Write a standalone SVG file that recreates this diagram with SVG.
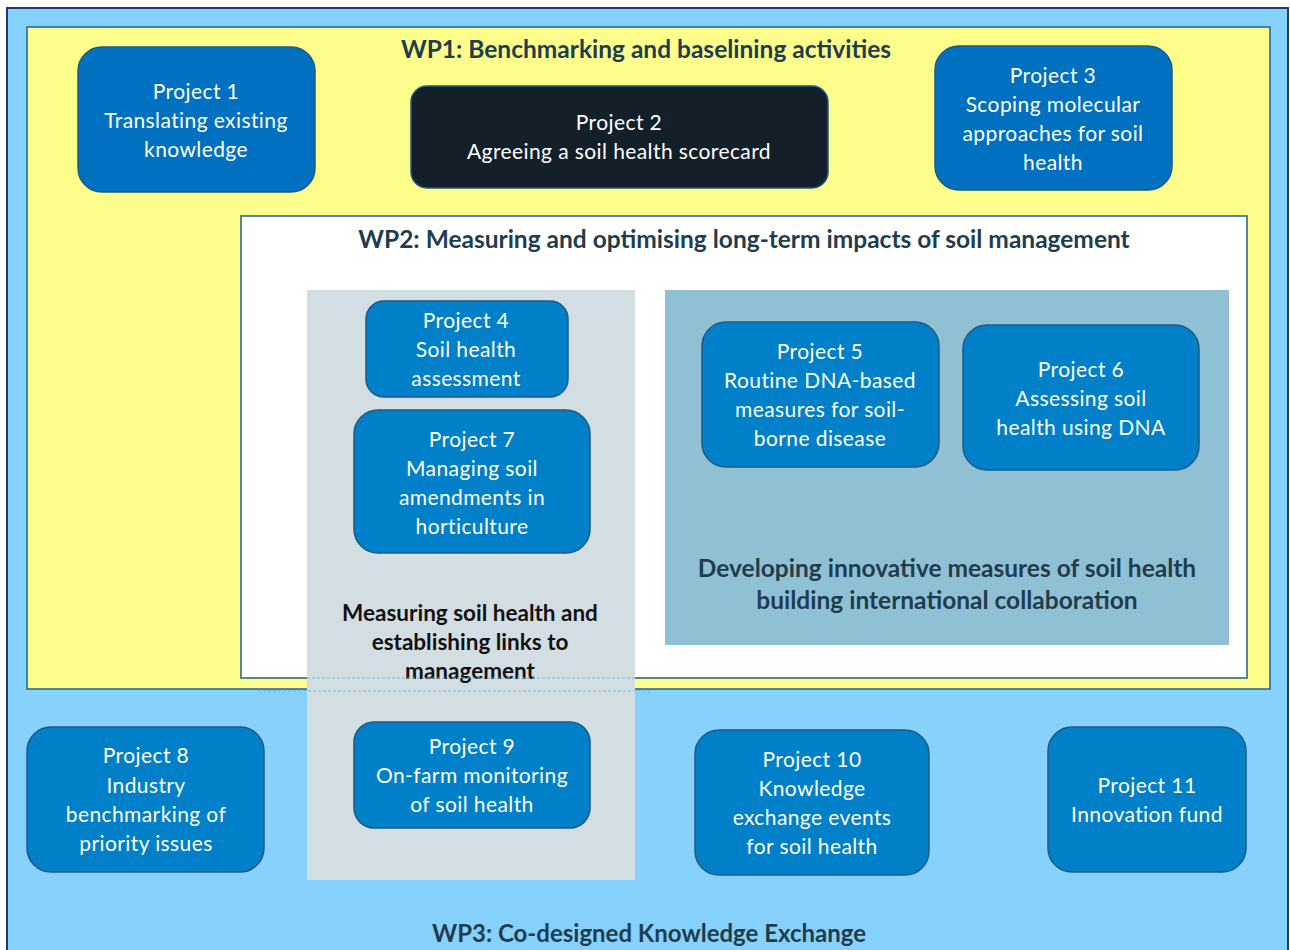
<svg xmlns="http://www.w3.org/2000/svg" width="1290" height="950" viewBox="0 0 1290 950">
<style>
.p{fill:#0080c8;stroke:#1f5a85;stroke-width:1.5}
.p1{fill:#0070c0;stroke:#1f5a85;stroke-width:1.5}
.t{font-family:Lato,"Open Sans",sans-serif;font-size:21px;letter-spacing:0.4px;fill:#ffffff;text-anchor:middle}
.h{font-family:Lato,"Open Sans",sans-serif;font-size:24.5px;font-weight:bold;fill:#1f3d4d;text-anchor:middle}
.g{font-family:Lato,"Open Sans",sans-serif;font-size:22.5px;font-weight:bold;fill:#111111;text-anchor:middle}
.d{stroke:#66bbee;stroke-width:1;stroke-dasharray:3 2;fill:none}
</style>
<rect x="0" y="0" width="1290" height="950" fill="#ffffff"/>
<g id="wp3">
<rect x="7" y="8" width="1281" height="950" fill="#87d2fd" stroke="#1f3a6e" stroke-width="2"/>
<text class="h" x="649" y="942" style="font-size:24px">WP3: Co-designed Knowledge Exchange</text>
</g>
<g id="wp1">
<rect x="27" y="27" width="1243" height="662" fill="#fcfd8b" stroke="#1f6391" stroke-width="1.5"/>
<text class="h" x="646" y="58">WP1: Benchmarking and baselining activities</text>
</g>
<g id="wp2">
<rect x="241" y="216" width="1006" height="462" fill="#ffffff" stroke="#1f5d8a" stroke-width="1.5"/>
<text class="h" x="744" y="248">WP2: Measuring and optimising long-term impacts of soil management</text>
</g>
<g id="measuring">
<rect x="307" y="290" width="328" height="590" fill="#d3dee3"/>
<text class="g" x="470" y="621">Measuring soil health and</text>
<text class="g" x="470" y="650">establishing links to</text>
<text class="g" x="470" y="679">management</text>
<line class="d" x1="307" y1="678" x2="635" y2="678"/>
<line class="d" x1="258" y1="691" x2="650" y2="691"/>
</g>
<g id="developing">
<rect x="665" y="290" width="564" height="355" fill="#8fc0d4"/>
<text class="h" x="947" y="577">Developing innovative measures of soil health</text>
<text class="h" x="947" y="609">building international collaboration</text>
</g>
<g id="project1">
<rect class="p1" x="78" y="47" width="237" height="145" rx="24"/>
<text class="t" x="196" y="99">Project 1</text>
<text class="t" x="196" y="128">Translating existing</text>
<text class="t" x="196" y="157">knowledge</text>
</g>
<g id="project2">
<rect x="411" y="86" width="417" height="102" rx="16" fill="#13202a" stroke="#1f5a85" stroke-width="1.5"/>
<text class="t" x="619" y="130">Project 2</text>
<text class="t" x="619" y="159">Agreeing a soil health scorecard</text>
</g>
<g id="project3">
<rect class="p1" x="935" y="46" width="237" height="144" rx="24"/>
<text class="t" x="1053" y="83">Project 3</text>
<text class="t" x="1053" y="112">Scoping molecular</text>
<text class="t" x="1053" y="141">approaches for soil</text>
<text class="t" x="1053" y="170">health</text>
</g>
<g id="project4">
<rect class="p" x="366" y="301" width="202" height="96" rx="18"/>
<text class="t" x="466" y="328">Project 4</text>
<text class="t" x="466" y="357">Soil health</text>
<text class="t" x="466" y="386">assessment</text>
</g>
<g id="project7">
<rect class="p" x="354" y="410" width="236" height="143" rx="24"/>
<text class="t" x="472" y="447">Project 7</text>
<text class="t" x="472" y="476">Managing soil</text>
<text class="t" x="472" y="505">amendments in</text>
<text class="t" x="472" y="534">horticulture</text>
</g>
<g id="project5">
<rect class="p" x="702" y="322" width="237" height="145" rx="24"/>
<text class="t" x="820" y="359">Project 5</text>
<text class="t" x="820" y="388">Routine DNA-based</text>
<text class="t" x="820" y="417">measures for soil-</text>
<text class="t" x="820" y="446">borne disease</text>
</g>
<g id="project6">
<rect class="p" x="963" y="325" width="236" height="145" rx="24"/>
<text class="t" x="1081" y="377">Project 6</text>
<text class="t" x="1081" y="406">Assessing soil</text>
<text class="t" x="1081" y="435">health using DNA</text>
</g>
<g id="project8">
<rect class="p" x="27" y="727" width="237" height="145" rx="24"/>
<text class="t" x="146" y="763">Project 8</text>
<text class="t" x="146" y="793">Industry</text>
<text class="t" x="146" y="822">benchmarking of</text>
<text class="t" x="146" y="851">priority issues</text>
</g>
<g id="project9">
<rect class="p" x="354" y="722" width="236" height="106" rx="20"/>
<text class="t" x="472" y="754">Project 9</text>
<text class="t" x="472" y="783">On-farm monitoring</text>
<text class="t" x="472" y="812">of soil health</text>
</g>
<g id="project10">
<rect class="p" x="695" y="730" width="234" height="145" rx="24"/>
<text class="t" x="812" y="767">Project 10</text>
<text class="t" x="812" y="796">Knowledge</text>
<text class="t" x="812" y="825">exchange events</text>
<text class="t" x="812" y="854">for soil health</text>
</g>
<g id="project11">
<rect class="p" x="1048" y="727" width="198" height="145" rx="24"/>
<text class="t" x="1147" y="793">Project 11</text>
<text class="t" x="1147" y="822">Innovation fund</text>
</g>
<g id="connectors"></g>
</svg>
